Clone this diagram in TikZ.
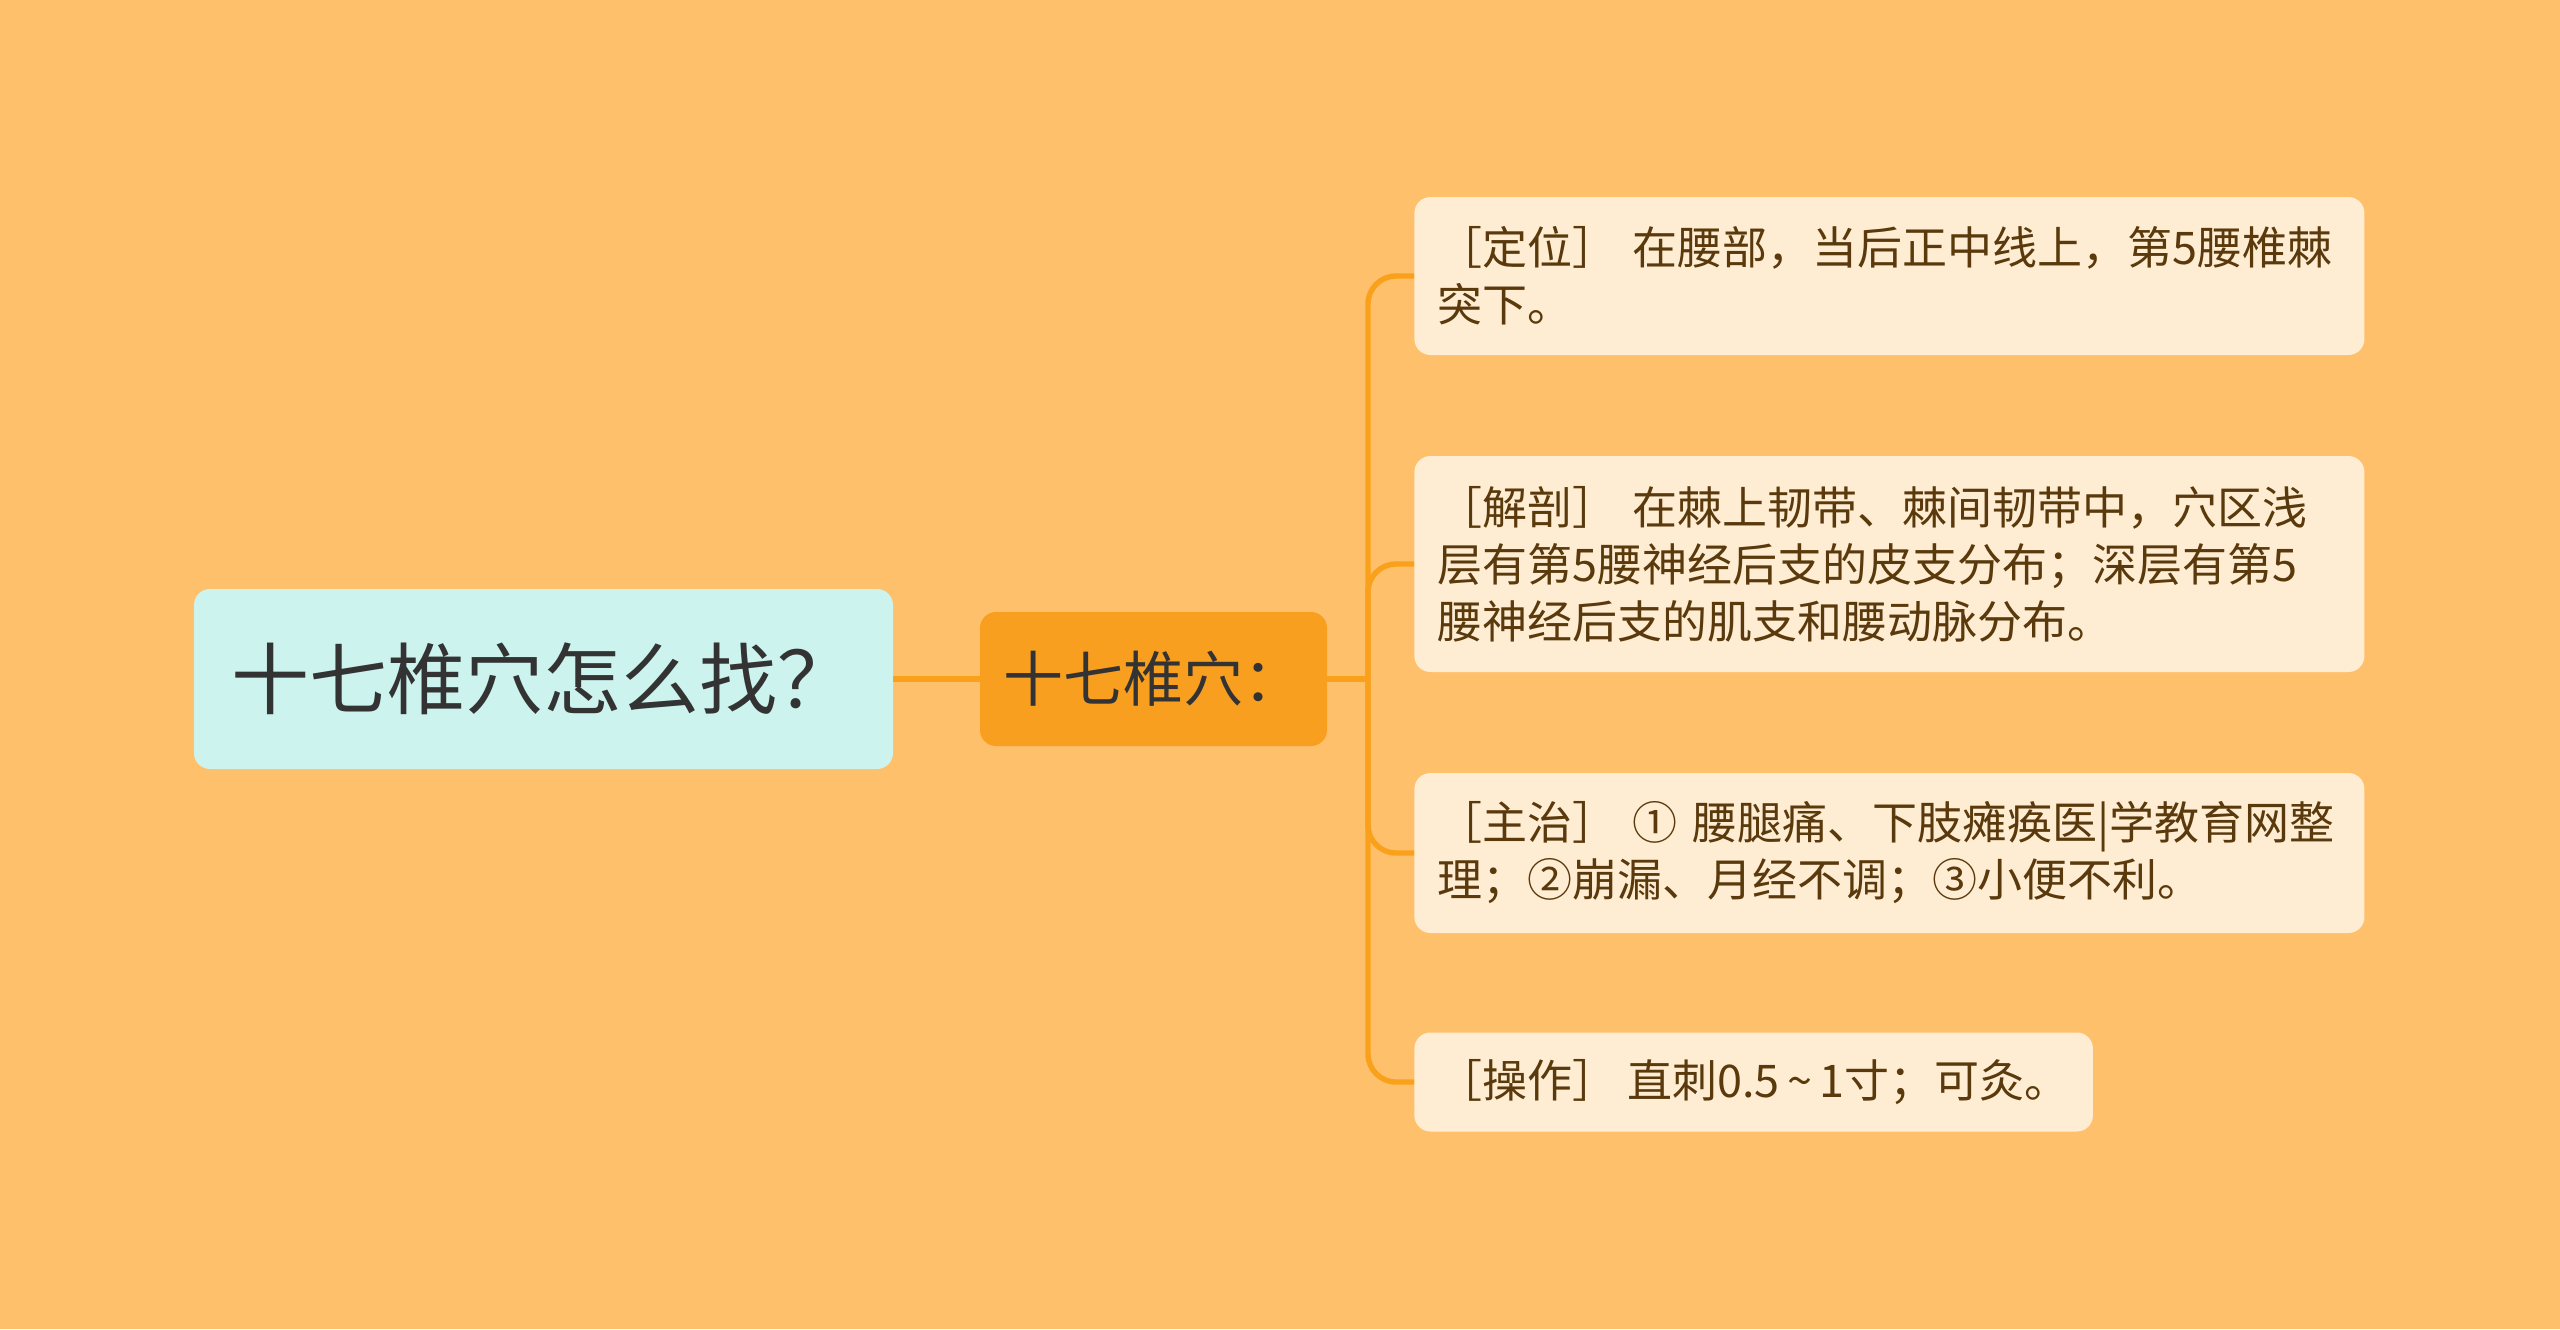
\documentclass[tikz,border=0pt]{standalone}
\usepackage{fontspec}
\setmainfont{Noto Sans CJK SC}
\usetikzlibrary{positioning}

\definecolor{bgorange}{HTML}{FFC06B}
\definecolor{rootcyan}{HTML}{CCF3EE}
\definecolor{midorange}{HTML}{F99F1F}
\definecolor{leafcream}{HTML}{FFEDD3}
\definecolor{leafbrown}{HTML}{5A3A0C}
\definecolor{lineorange}{HTML}{F9A11B}

\tikzset{
  rootbox/.style={fill=rootcyan, rounded corners=8pt, text=black!80,
    font=\fontsize{39}{44}\selectfont, minimum width=349.5pt, minimum height=90pt},
  midbox/.style={fill=midorange, rounded corners=8pt, text=black!80,
    font=\fontsize{30}{36}\selectfont, minimum width=173.5pt, minimum height=67pt},
  leafbox/.style={fill=leafcream, rounded corners=8pt, text=leafbrown, anchor=west,
    font=\fontsize{22.5}{28.5}\selectfont, align=left, inner xsep=11.5pt},
  branch/.style={draw=lineorange, line width=2.7pt}
}

\begin{document}
\begin{tikzpicture}[x=0.5pt, y=-0.5pt]
\useasboundingbox (0,0) rectangle (2560,1329);
\fill[bgorange] (0,0) rectangle (2560,1329);

% centre and first level
\node[rootbox] (root) at (543.5,679) {十七椎穴怎么找？};
\node[midbox] (point) at (1153.5,679) {十七椎穴：};
\coordinate (hub) at (1368,679);

% leaves
\node[leafbox, text width=452pt, minimum height=79pt] (locate) at (1414,276)
  {［定位］ 在腰部，当后正中线上，第5腰椎棘\\突下。};
\node[leafbox, text width=452pt, minimum height=108pt] (anatomy) at (1414,564)
  {［解剖］ 在棘上韧带、棘间韧带中，穴区浅\\层有第5腰神经后支的皮支分布；深层有第5\\腰神经后支的肌支和腰动脉分布。};
\node[leafbox, text width=452pt, minimum height=80pt] (treat) at (1414,853)
  {［主治］ ① 腰腿痛、下肢瘫痪医|学教育网整\\理；②崩漏、月经不调；③小便不利。};
\node[leafbox, minimum height=49.5pt] (needle) at (1414,1082)
  {［操作］ 直刺0.5\,\string~\,1寸；可灸。};

% connectors
\draw[branch] (root.east) -- (point.west);
\draw[branch] (point.east) -- (hub);
\foreach \leaf in {locate, anatomy, treat, needle}
  \draw[branch, rounded corners=14pt] (hub) |- (\leaf.west);
\end{tikzpicture}
\end{document}
